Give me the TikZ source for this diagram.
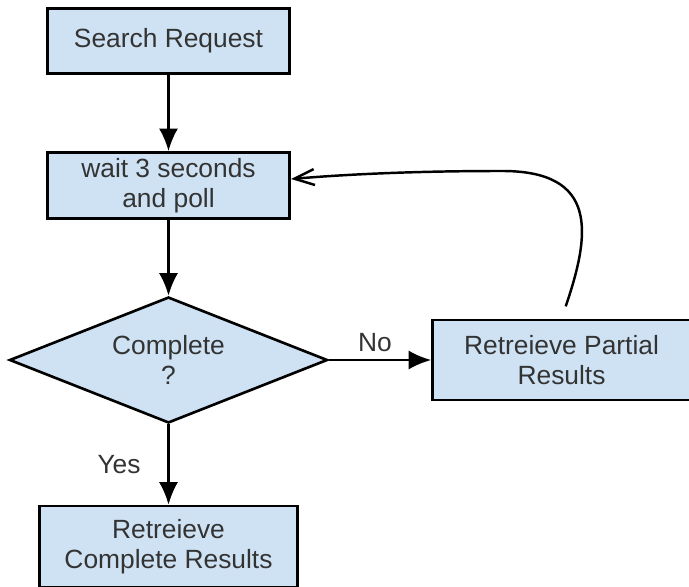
\documentclass[tikz,border=0pt]{standalone}
\usepackage{fontspec}
\setmainfont{Liberation Sans}
\usepackage{tikz}
\usetikzlibrary{shapes.geometric, arrows.meta, positioning}

\definecolor{boxfill}{HTML}{CFE2F3}
\definecolor{boxtext}{HTML}{333333}

\begin{document}
\begin{tikzpicture}[node distance=2cm,
        box/.style={rectangle, draw, line width=1.5pt, fill=boxfill, text=boxtext, align=center, minimum width=4.85cm, minimum height=1.3cm, font=\fontsize{15}{17}\selectfont},
        decision/.style={diamond, draw, line width=1.5pt, fill=boxfill, text=boxtext, align=center, aspect=2.5, inner sep=1pt, minimum width=6.36cm, minimum height=2.52cm, font=\fontsize{15}{17}\selectfont},
        flow/.style={line width=1.4pt, -{Latex[length=0.45cm, width=0.38cm]}},
        back/.style={line width=1.4pt, -{Straight Barb[length=0.4cm, width=0.32cm]}},
        tag/.style={text=boxtext, inner sep=1pt, font=\fontsize{15}{17}\selectfont}]
        \clip (0,0) rectangle (13.78,-11.72);

        % Steps
        \node[box] (search) at (3.37,-0.82) {Search Request};
        \node[box, below of=search, node distance=2.89cm] (wait) {wait 3 seconds\\and poll};

        % Decision
        \node[decision, below of=wait, node distance=3.49cm] (complete) {Complete\\?};

        % Results
        \node[box, below of=complete, node distance=3.73cm, minimum width=5.15cm, minimum height=1.62cm] (full) {Retreieve\\Complete Results};
        \node[box, right of=complete, node distance=7.86cm, minimum width=5.16cm, minimum height=1.6cm] (partial) {Retreieve Partial\\Results};

        % Loop back
        \coordinate (looptop) at (10.0,-3.42);

        % Connections
        \draw[flow] (search) -- (wait);
        \draw[flow] (wait) -- (complete);
        \draw[flow] (complete) -- node[tag, midway, left=0.5cm] {Yes} (full);
        \draw[flow] (complete) -- node[tag, pos=0.45, above=0.1cm] {No} (partial);
        \draw[back, shorten <=0.26cm] (partial.north) .. controls (11.8,-4.7) and (12.0,-3.4) .. (looptop)
            .. controls (8.4,-3.42) and (7.0,-3.48) .. ([yshift=0.13cm]wait.east);
    \end{tikzpicture}
\end{document}
